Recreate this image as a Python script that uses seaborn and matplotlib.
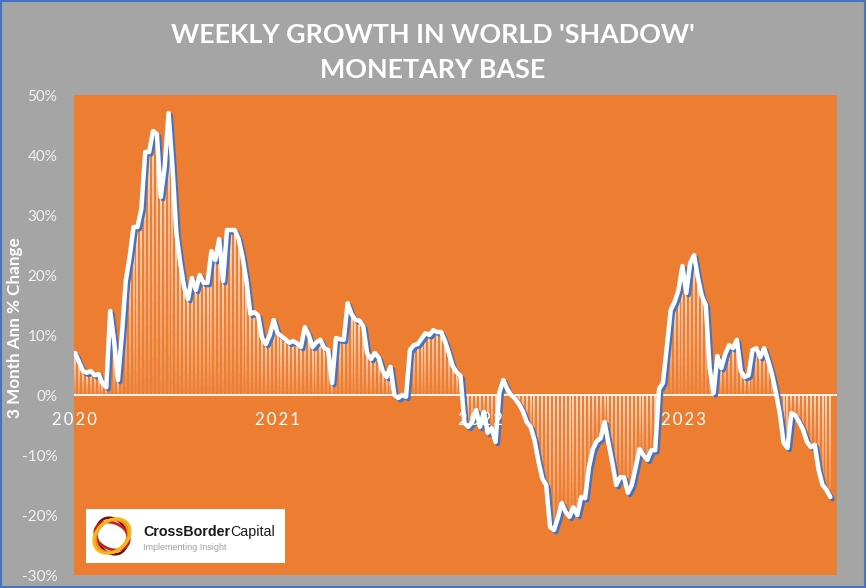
import matplotlib
matplotlib.use("Agg")
import matplotlib.pyplot as plt
import matplotlib.patheffects as pe
import matplotlib.dates as mdates
from matplotlib.collections import LineCollection
from matplotlib.patches import Rectangle, Ellipse
import numpy as np
import pandas as pd
import seaborn as sns

# weekly 3m annualised % change
growth = [
    7.0, 5.5, 4.0, 3.7, 4.0, 3.3, 3.5, 2.0, 1.3, 14.0,
    9.0, 2.5, 10.0, 19.0, 23.0, 28.0, 28.0, 31.0, 40.5, 40.5,
    44.0, 43.5, 33.0, 38.0, 47.0, 38.0, 27.0, 22.0, 18.0, 16.0,
    19.5, 17.5, 20.0, 18.7, 18.7, 24.0, 22.5, 26.0, 19.0, 27.5,
    27.5, 27.5, 26.0, 23.0, 19.0, 13.5, 13.8, 13.3, 9.5, 8.5,
    10.0, 12.5, 10.3, 9.8, 9.3, 8.7, 9.0, 8.6, 8.0, 11.3,
    10.0, 8.0, 8.8, 9.2, 7.8, 7.5, 2.0, 9.5, 9.3, 9.2,
    15.3, 13.5, 12.5, 12.4, 11.5, 7.0, 6.0, 7.0, 6.2, 4.0,
    3.0, 4.7, 0.0, -0.5, 0.0, -0.3, 7.5, 8.3, 8.5, 9.4,
    10.3, 10.0, 10.8, 10.5, 10.5, 9.0, 7.0, 4.8, 3.8, 3.2,
    -4.7, -5.3, -4.5, -2.5, -5.3, -2.8, -6.3, -5.5, -7.8, 0.5,
    2.5, 1.0, 0.0, -0.6, -1.5, -2.7, -4.5, -5.3, -7.5, -11.0,
    -13.9, -15.0, -22.0, -22.5, -20.5, -18.0, -19.5, -20.3, -18.7, -20.0,
    -17.0, -17.2, -12.0, -9.0, -7.7, -7.2, -4.5, -8.0, -11.3, -15.0,
    -13.7, -13.7, -16.3, -15.0, -12.0, -9.0, -10.0, -10.8, -9.2, -9.2,
    1.0, 2.0, 8.0, 14.2, 15.5, 17.5, 21.5, 17.0, 22.0, 23.3,
    19.5, 16.5, 15.0, 4.5, 0.3, 6.5, 4.5, 6.8, 8.3, 7.8,
    9.2, 4.0, 3.0, 3.3, 7.5, 7.8, 6.3, 7.8, 5.8, 3.5,
    0.5, -3.0, -8.0, -8.8, -3.0, -3.4, -4.5, -5.8, -7.8, -8.7,
    -8.3, -12.5, -15.0, -15.8, -17.0,
]
dates = pd.date_range("2020-01-03", periods=len(growth), freq="7D")
years = ["2020", "2021", "2022", "2023"]
y_ticks = [-30, -20, -10, 0, 10, 20, 30, 40, 50]

df = pd.DataFrame({"date": dates, "growth": growth})

sns.set_theme(style="white")
plt.rcParams['font.family'] = ['Lato', 'DejaVu Sans']

grey = "#A5A5A5"
orange = "#ED7D31"
blue = "#4472C4"

fig = plt.figure(figsize=(8.66, 5.88), dpi=100, facecolor=grey)
ax = fig.add_axes([0.0855, 0.0221, 0.8810, 0.8163])
ax.set_facecolor(orange)

# weekly bars, white at the top of each bar fading towards the bottom
xs = mdates.date2num(df["date"])
segs, cols = [], []
n = 14
for x, v in zip(xs, df["growth"]):
    top, bot = max(v, 0), min(v, 0)
    edges = np.linspace(top, bot, n + 1)
    for k in range(n):
        segs.append([(x, edges[k]), (x, edges[k + 1])])
        cols.append((1, 1, 1, 0.9 - 0.75 * k / (n - 1)))
ax.add_collection(LineCollection(segs, colors=cols, linewidths=1.1, zorder=2))

ax.axhline(0, color="white", lw=1.3, zorder=3)

sns.lineplot(data=df, x="date", y="growth", ax=ax, color="white", lw=3.2,
             zorder=4, solid_joinstyle="round",
             path_effects=[pe.SimpleLineShadow(offset=(1.6, -1.6), shadow_color=blue, alpha=1),
                           pe.Normal()])

ax.set_xlim(pd.Timestamp("2020-01-01"), pd.Timestamp("2023-10-04"))
ax.set_ylim(-30, 50)
ax.set_xticks([])
ax.set_yticks(y_ticks)
ax.set_yticklabels([f"{t}%" for t in y_ticks], color="#F2F2F2", fontsize=11)
ax.tick_params(axis="y", length=0, pad=12)
for s in ax.spines.values():
    s.set_visible(False)
ax.set_xlabel("")
ax.set_ylabel("3 Month Ann % Change", color="white", fontsize=12.3, fontweight="bold")
ax.yaxis.set_label_coords(-0.067, 0.515)

for y in years:
    ax.text(pd.Timestamp(f"{y}-01-01"), -4.2, "\u2009".join(y), color="white",
            fontsize=12, ha="center", va="center", zorder=5)

fig.text(0.5, 0.941, "WEEKLY GROWTH IN WORLD 'SHADOW'", color="white",
         fontsize=19.4, fontweight="bold", ha="center", va="center")
fig.text(0.5, 0.881, "MONETARY BASE", color="white",
         fontsize=19.4, fontweight="bold", ha="center", va="center")

# logo box
lg = fig.add_axes([0.0993, 0.0425, 0.2298, 0.0918])
lg.set_facecolor("white")
lg.set_xlim(0, 199)
lg.set_ylim(0, 54)
lg.set_xticks([])
lg.set_yticks([])
for s in lg.spines.values():
    s.set_visible(False)
for w, h, ang, c, lw in [(30, 38, 25, "#6E0E0E", 1.8), (36, 26, -25, "#C8221E", 2.0),
                         (36, 30, 45, "#F08A1C", 2.4), (30, 40, -50, "#F6B816", 2.2)]:
    lg.add_patch(Ellipse((26, 27), w, h, angle=ang, fill=False, edgecolor=c, lw=lw))
t1 = lg.text(57, 24, "CrossBorder", fontsize=10.3, fontweight="bold", color="#1A1A1A",
             family="Liberation Sans", va="bottom")
lg.annotate("Capital", xy=(1, 0), xycoords=t1, fontsize=10.3, color="#1A1A1A",
            family="Liberation Sans", va="bottom", ha="left")
lg.text(57, 16, "Implementing Insight", fontsize=6.5, color="#A0A0A0",
        family="Liberation Sans", va="center")

fig.add_artist(Rectangle((0.001, 0.001), 0.998, 0.998, transform=fig.transFigure,
                         fill=False, edgecolor=blue, lw=1.5))

fig.savefig("out.png", dpi=100, facecolor=grey)
